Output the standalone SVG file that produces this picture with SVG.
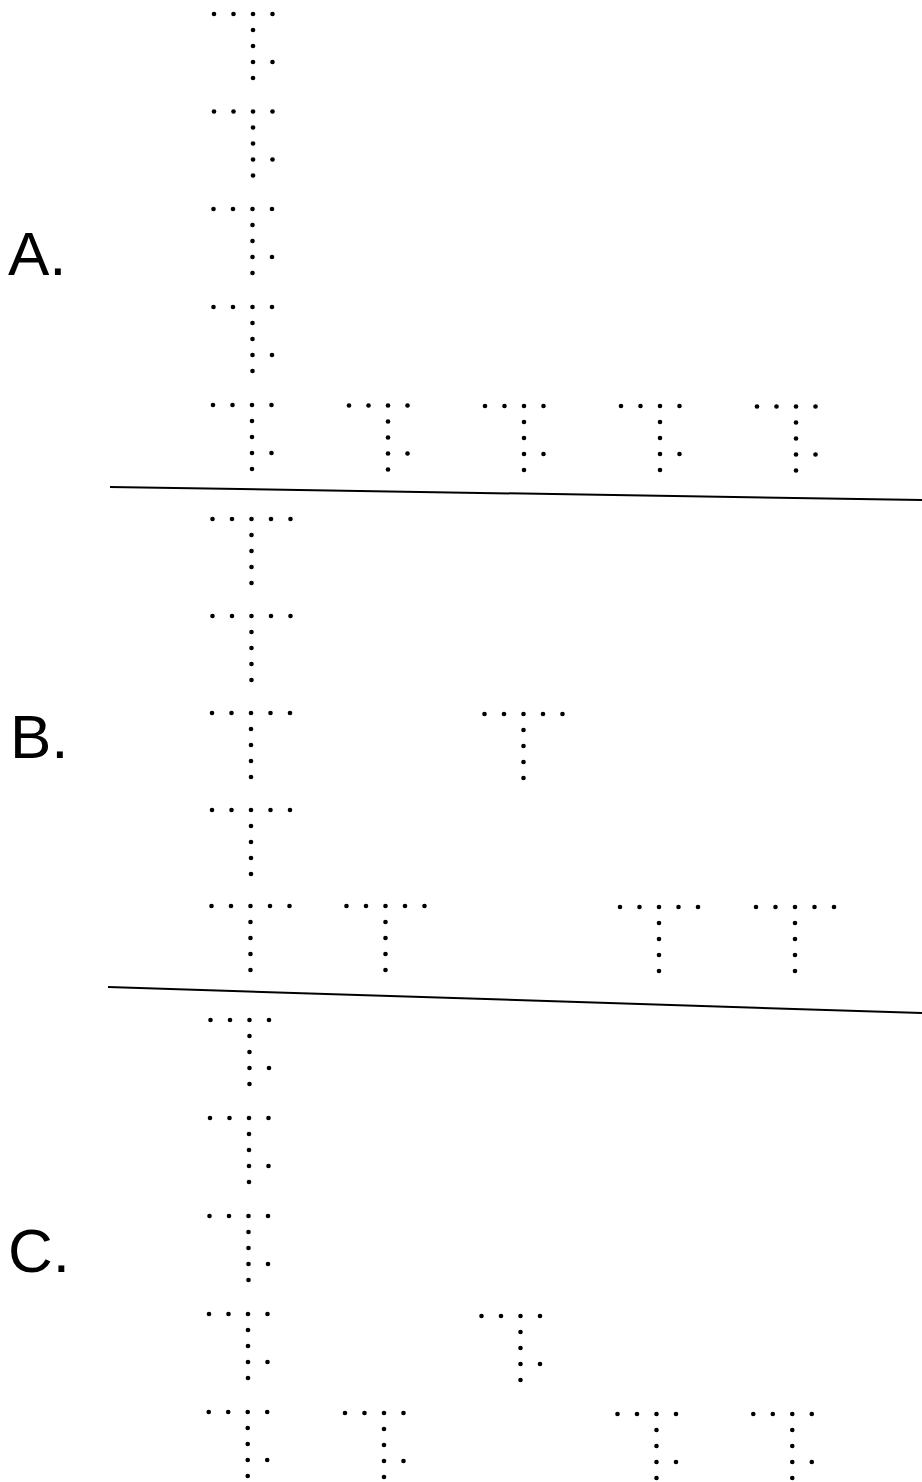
<svg xmlns="http://www.w3.org/2000/svg" xmlns:xlink="http://www.w3.org/1999/xlink" width="922" height="1482" viewBox="0 0 922 1482">
<style>
.lbl{font-family:"Liberation Sans",Arial,sans-serif;font-size:62px;fill:#000}
.d{fill:#000}
.ln{stroke:#000;stroke-width:2;fill:none}
</style>
<defs>
<g id="gA">
<circle class="d" cx="0" cy="0" r="2.3"/><circle class="d" cx="19.5" cy="0" r="2.3"/><circle class="d" cx="39" cy="0" r="2.3"/><circle class="d" cx="58.5" cy="0" r="2.3"/>
<circle class="d" cx="39" cy="16" r="2.3"/><circle class="d" cx="39" cy="32" r="2.3"/><circle class="d" cx="39" cy="48" r="2.3"/><circle class="d" cx="58.5" cy="48" r="2.3"/><circle class="d" cx="39" cy="64" r="2.3"/>
</g>
<g id="gB">
<circle class="d" cx="0" cy="0" r="2.3"/><circle class="d" cx="19.5" cy="0" r="2.3"/><circle class="d" cx="39" cy="0" r="2.3"/><circle class="d" cx="58.5" cy="0" r="2.3"/><circle class="d" cx="78" cy="0" r="2.3"/>
<circle class="d" cx="39" cy="16" r="2.3"/><circle class="d" cx="39" cy="32" r="2.3"/><circle class="d" cx="39" cy="48" r="2.3"/><circle class="d" cx="39" cy="64" r="2.3"/>
</g>
</defs>
<rect width="922" height="1482" fill="#fff"/>
<g id="connectors">
<line class="ln" x1="110" y1="487" x2="922" y2="500"/>
<line class="ln" x1="108" y1="987" x2="922" y2="1013"/>
</g>
<g id="labels">
<text class="lbl" x="8" y="275">A.</text>
<text class="lbl" x="10" y="758">B.</text>
<text class="lbl" x="8" y="1272">C.</text>
</g>
<g id="sectionA">
<g id="a1"><use xlink:href="#gA" x="214" y="14"/></g>
<g id="a2"><use xlink:href="#gA" x="214" y="111.5"/></g>
<g id="a3"><use xlink:href="#gA" x="213.5" y="209"/></g>
<g id="a4"><use xlink:href="#gA" x="213.5" y="307"/></g>
<g id="a5"><use xlink:href="#gA" x="213" y="405"/></g>
<g id="a6"><use xlink:href="#gA" x="349" y="405.5"/></g>
<g id="a7"><use xlink:href="#gA" x="485" y="406"/></g>
<g id="a8"><use xlink:href="#gA" x="621" y="406"/></g>
<g id="a9"><use xlink:href="#gA" x="757" y="406.5"/></g>
</g>
<g id="sectionB">
<g id="b1"><use xlink:href="#gB" x="212.5" y="519"/></g>
<g id="b2"><use xlink:href="#gB" x="212.5" y="616"/></g>
<g id="b3"><use xlink:href="#gB" x="212" y="713"/></g>
<g id="b4"><use xlink:href="#gB" x="212" y="810"/></g>
<g id="b5"><use xlink:href="#gB" x="211.5" y="906"/></g>
<g id="b6"><use xlink:href="#gB" x="484.5" y="714"/></g>
<g id="b7"><use xlink:href="#gB" x="346.5" y="906"/></g>
<g id="b8"><use xlink:href="#gB" x="620" y="907"/></g>
<g id="b9"><use xlink:href="#gB" x="756" y="907"/></g>
</g>
<g id="sectionC">
<g id="c1"><use xlink:href="#gA" x="210.5" y="1020"/></g>
<g id="c2"><use xlink:href="#gA" x="210" y="1118"/></g>
<g id="c3"><use xlink:href="#gA" x="209.5" y="1216"/></g>
<g id="c4"><use xlink:href="#gA" x="209" y="1314"/></g>
<g id="c5"><use xlink:href="#gA" x="208.7" y="1412"/></g>
<g id="c6"><use xlink:href="#gA" x="481.5" y="1316"/></g>
<g id="c7"><use xlink:href="#gA" x="345" y="1413"/></g>
<g id="c8"><use xlink:href="#gA" x="617.5" y="1414"/></g>
<g id="c9"><use xlink:href="#gA" x="753.3" y="1414"/></g>
</g>
</svg>
